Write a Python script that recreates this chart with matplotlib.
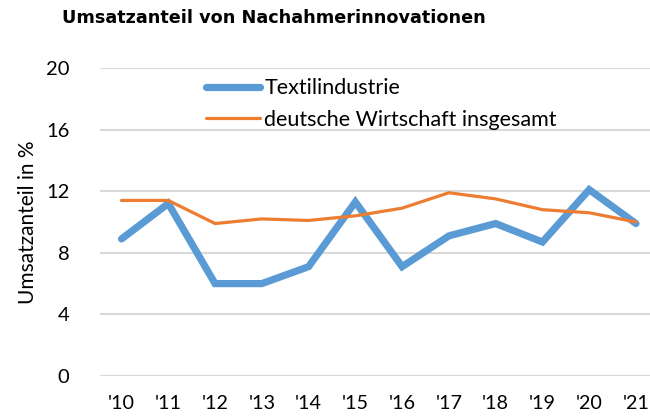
import matplotlib
matplotlib.use("Agg")
import matplotlib.pyplot as plt

years = ["'10", "'11", "'12", "'13", "'14", "'15", "'16", "'17", "'18", "'19", "'20", "'21"]
textil = [8.9, 11.2, 6.0, 6.0, 7.1, 11.3, 7.1, 9.1, 9.9, 8.7, 12.1, 9.9]
deutsch = [11.4, 11.4, 9.9, 10.2, 10.1, 10.4, 10.9, 11.9, 11.5, 10.8, 10.6, 10.0]
yticks = [0, 4, 8, 12, 16, 20]

W, H = 650, 418
fig = plt.figure(figsize=(W / 100, H / 100), dpi=100)
ax = fig.add_axes([100 / W, (H - 376) / H, 550 / W, (376 - 68) / H])

font = "Lato"
x = list(range(len(years)))
ax.plot(x, textil, color="#5B9BD5", lw=5.2, solid_capstyle="round", solid_joinstyle="miter", label="Textilindustrie", zorder=3)
ax.plot(x, deutsch, color="#ED7D31", lw=2.3, solid_capstyle="round", label="deutsche Wirtschaft insgesamt", zorder=4)

ax.set_xlim(-0.46, 11.3)
ax.set_ylim(0, 20)
ax.set_yticks(yticks)
ax.set_yticklabels([str(v) for v in yticks], fontfamily=font, fontsize=14.5, color="#000000")
ax.set_xticks(x)
ax.set_xticklabels(years, fontfamily=font, fontsize=14.2, color="#000000")
ax.tick_params(axis="both", length=0)
ax.tick_params(axis="y", pad=22)
ax.tick_params(axis="x", pad=14)
ax.grid(axis="y", color="#D9D9D9", lw=1.5)
ax.set_axisbelow(True)
for s in ax.spines.values():
    s.set_visible(False)

ax.set_ylabel("Umsatzanteil in %", fontfamily=font, fontsize=15, labelpad=6)

fig.text(274 / W, 1 - 18 / H, "Umsatzanteil von Nachahmerinnovationen", ha="center", va="center",
         fontfamily="DejaVu Sans", fontweight="bold", fontsize=12.7)

leg = ax.legend(loc="upper left", bbox_to_anchor=(191 / W, 1 - 63 / H), bbox_transform=fig.transFigure,
                frameon=False, prop={"family": font, "size": 15.5}, handlelength=2.5,
                handletextpad=0.2, labelspacing=0.55, borderpad=0.2)

fig.savefig("out.png", dpi=100)
